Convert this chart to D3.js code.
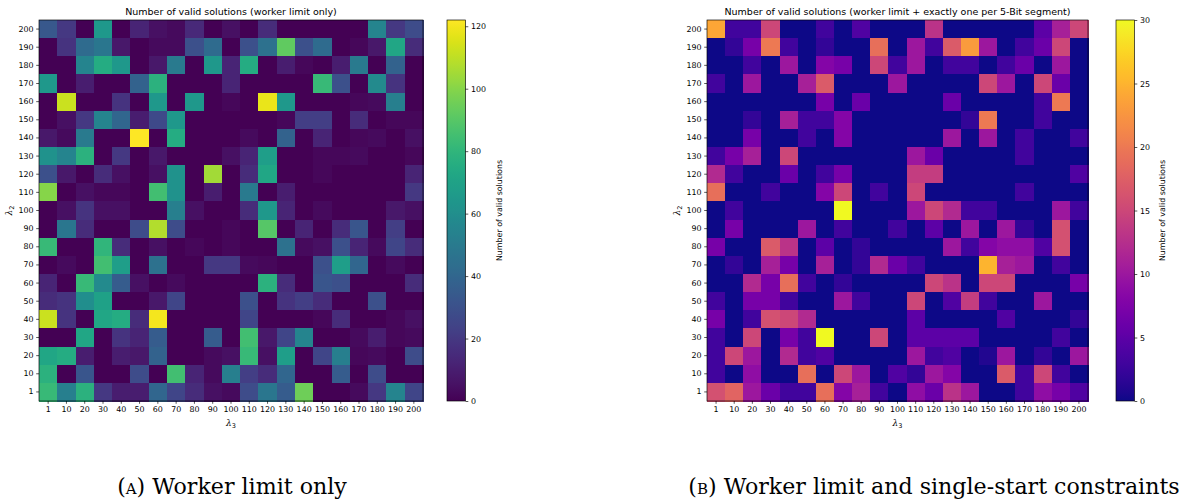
<!DOCTYPE html>
<html>
<head>
<meta charset="utf-8">
<script src="https://cdn.jsdelivr.net/npm/d3@7"></script>
<style>
    body { margin: 0; background: #fff; }
    svg text { fill: #000; }
</style>
</head>
<body>
<svg id="chart" width="1184" height="502"></svg>
<script>
// lambda values on both axes
const lambda3 = [1, 10, 20, 30, 40, 50, 60, 70, 80, 90, 100, 110, 120, 130, 140, 150, 160, 170, 180, 190, 200];
// rows are listed top to bottom, i.e. lambda2 = 200 first
const lambda2Rows = lambda3.slice().reverse();

// (a) worker limit only
const workerOnly = [
    [33, 20, 0, 65, 0, 12, 5, 3, 14, 0, 5, 0, 15, 0, 0, 0, 0, 0, 55, 20, 28],
    [0, 18, 42, 48, 8, 0, 3, 3, 30, 42, 0, 30, 45, 92, 30, 42, 0, 2, 8, 72, 15],
    [0, 0, 55, 75, 65, 0, 8, 50, 0, 65, 12, 75, 0, 10, 2, 0, 10, 50, 0, 38, 0],
    [65, 0, 10, 0, 0, 38, 78, 0, 0, 0, 12, 0, 0, 0, 0, 82, 30, 0, 58, 18, 0],
    [0, 112, 0, 0, 18, 0, 65, 0, 65, 0, 2, 0, 118, 65, 0, 0, 0, 2, 3, 52, 0],
    [0, 5, 20, 55, 40, 10, 27, 65, 0, 0, 0, 0, 0, 2, 22, 22, 0, 15, 0, 2, 2],
    [8, 3, 50, 0, 0, 122, 0, 75, 0, 0, 0, 3, 0, 38, 0, 12, 0, 2, 3, 0, 5],
    [62, 55, 78, 0, 20, 0, 8, 0, 0, 0, 5, 12, 68, 0, 0, 2, 2, 3, 0, 0, 2],
    [30, 8, 0, 15, 5, 0, 5, 62, 0, 105, 0, 15, 72, 0, 0, 2, 0, 0, 0, 0, 12],
    [100, 0, 5, 2, 2, 0, 85, 62, 0, 10, 0, 50, 0, 10, 0, 0, 0, 0, 0, 0, 20],
    [0, 5, 18, 5, 5, 0, 0, 52, 5, 0, 0, 15, 65, 12, 0, 3, 0, 0, 0, 8, 5],
    [0, 48, 15, 0, 0, 28, 108, 28, 0, 0, 2, 0, 90, 0, 12, 0, 15, 32, 0, 22, 0],
    [82, 0, 0, 80, 15, 0, 5, 0, 2, 0, 2, 0, 0, 45, 3, 5, 30, 12, 3, 25, 15],
    [0, 3, 0, 85, 68, 0, 45, 0, 0, 20, 20, 3, 2, 0, 0, 30, 68, 40, 0, 3, 0],
    [12, 0, 82, 58, 35, 5, 0, 3, 0, 0, 0, 0, 78, 15, 0, 32, 30, 0, 0, 0, 15],
    [15, 18, 60, 70, 0, 0, 8, 25, 0, 0, 0, 30, 0, 18, 22, 15, 0, 0, 30, 0, 0],
    [112, 18, 0, 72, 75, 15, 120, 0, 0, 0, 0, 25, 0, 0, 0, 2, 15, 0, 0, 2, 5],
    [0, 0, 72, 0, 18, 12, 35, 0, 0, 35, 0, 85, 8, 25, 55, 0, 0, 3, 10, 2, 3],
    [72, 75, 10, 0, 10, 8, 38, 0, 0, 3, 5, 82, 5, 68, 0, 25, 52, 2, 3, 0, 28],
    [78, 0, 32, 0, 0, 28, 0, 85, 12, 3, 52, 22, 15, 40, 0, 0, 35, 0, 28, 0, 0],
    [82, 52, 78, 20, 10, 10, 40, 25, 15, 5, 3, 28, 48, 35, 95, 0, 0, 3, 20, 55, 25]
];

// (b) worker limit + exactly one per 5-bit segment
const singleStart = [
    [24, 3, 3, 15, 0, 0, 3, 0, 4, 0, 0, 0, 13, 0, 0, 0, 0, 0, 5, 11, 15],
    [0, 2, 7, 20, 3, 0, 2, 0, 0, 19, 0, 10, 3, 17, 23, 10, 0, 3, 6, 15, 0],
    [0, 0, 3, 0, 10, 0, 8, 7, 0, 15, 3, 10, 0, 3, 3, 0, 3, 6, 0, 10, 0],
    [3, 0, 10, 0, 0, 11, 17, 0, 0, 0, 10, 0, 0, 0, 0, 15, 10, 0, 15, 6, 0],
    [0, 0, 0, 0, 0, 0, 7, 0, 6, 0, 0, 0, 0, 6, 0, 0, 0, 0, 3, 20, 0],
    [0, 0, 2, 0, 11, 3, 3, 8, 0, 0, 0, 0, 0, 0, 2, 20, 0, 0, 3, 0, 0],
    [0, 0, 7, 0, 0, 3, 0, 8, 0, 0, 0, 0, 0, 10, 0, 10, 0, 3, 0, 0, 3],
    [3, 7, 11, 0, 15, 0, 0, 0, 0, 0, 0, 10, 6, 0, 0, 0, 0, 3, 0, 0, 0],
    [12, 3, 0, 0, 6, 0, 3, 7, 0, 0, 0, 14, 14, 0, 0, 0, 0, 0, 0, 0, 4],
    [19, 0, 0, 3, 0, 0, 8, 15, 0, 3, 0, 15, 0, 0, 0, 0, 0, 3, 0, 0, 0],
    [0, 3, 0, 0, 0, 0, 0, 30, 0, 0, 0, 10, 15, 12, 3, 3, 0, 0, 0, 10, 3],
    [0, 7, 0, 0, 0, 10, 0, 3, 0, 0, 3, 0, 5, 0, 10, 0, 10, 2, 0, 16, 0],
    [7, 0, 0, 17, 13, 0, 5, 0, 2, 0, 0, 0, 0, 10, 3, 8, 9, 9, 4, 16, 0],
    [0, 2, 0, 11, 7, 0, 11, 0, 2, 12, 6, 3, 0, 0, 0, 25, 11, 10, 0, 3, 0],
    [0, 0, 12, 7, 19, 3, 0, 2, 0, 0, 0, 0, 15, 13, 0, 15, 15, 0, 0, 0, 7],
    [3, 0, 7, 7, 3, 0, 0, 10, 3, 0, 0, 15, 0, 4, 14, 3, 0, 0, 10, 0, 0],
    [7, 0, 3, 16, 15, 12, 0, 0, 0, 0, 0, 5, 0, 0, 0, 0, 4, 0, 0, 0, 2],
    [3, 0, 15, 0, 7, 3, 30, 0, 0, 15, 0, 5, 5, 5, 5, 0, 0, 0, 0, 3, 0],
    [3, 15, 10, 0, 12, 3, 4, 0, 0, 0, 0, 10, 3, 4, 0, 1, 10, 0, 2, 0, 10],
    [3, 0, 9, 0, 0, 19, 0, 15, 10, 0, 4, 2, 10, 8, 0, 0, 17, 3, 15, 3, 0],
    [16, 18, 10, 6, 3, 3, 19, 8, 11, 3, 0, 9, 6, 13, 10, 0, 0, 3, 9, 7, 4]
];

const ticksA = [0, 20, 40, 60, 80, 100, 120];
const ticksB = [0, 5, 10, 15, 20, 25, 30];

const svg = d3.select("#chart");
const FS = 7.9;
const SANS = "'DejaVu Sans', sans-serif";
const SERIF = "'DejaVu Serif', serif";

function drawPanel(cfg) {
    const w = cfg.w, h = cfg.h;
    const g = svg.append("g").attr("transform", `translate(${cfg.x},${cfg.y})`);

    const x = d3.scaleBand().domain(lambda3).range([0, w]);
    const y = d3.scaleBand().domain(lambda2Rows).range([0, h]);
    const color = d3.scaleSequential(cfg.scheme).domain([0, cfg.vmax]);

    const cells = [];
    cfg.values.forEach((row, i) => {
        row.forEach((v, j) => cells.push({r: lambda2Rows[i], c: lambda3[j], v: v}));
    });

    g.append("g")
        .attr("shape-rendering", "crispEdges")
        .selectAll("rect")
        .data(cells)
        .enter().append("rect")
        .attr("x", d => x(d.c))
        .attr("y", d => y(d.r))
        .attr("width", x.bandwidth() + 0.8)
        .attr("height", y.bandwidth() + 0.8)
        .attr("fill", d => color(d.v));

    // axes
    const xa = g.append("g")
        .attr("transform", `translate(0,${h})`)
        .call(d3.axisBottom(x).tickSize(2.8).tickPadding(2.6));
    const ya = g.append("g")
        .call(d3.axisLeft(y).tickSize(2.8).tickPadding(2.6));
    [xa, ya].forEach(a => {
        a.select(".domain").remove();
        a.selectAll("line").attr("stroke", "#000").attr("stroke-width", 0.65);
        a.selectAll("text").style("font-size", FS + "px").style("font-family", SANS);
    });

    g.append("rect")
        .attr("width", w).attr("height", h)
        .attr("fill", "none").attr("stroke", "#000").attr("stroke-width", 0.65);

    g.append("text")
        .attr("x", w / 2).attr("y", -5)
        .attr("text-anchor", "middle")
        .style("font-family", SANS)
        .style("font-size", "9.5px")
        .text(cfg.title);

    // lambda labels
    const xl = g.append("text")
        .attr("x", w / 2).attr("y", h + 25)
        .attr("text-anchor", "middle")
        .style("font-family", SANS)
        .style("font-size", "9px");
    xl.append("tspan").style("font-family", SERIF).style("font-style", "italic").text("λ");
    xl.append("tspan").style("font-size", "6.5px").attr("dy", 2).text("3");

    const yl = g.append("text")
        .attr("transform", `translate(${-27},${h / 2}) rotate(-90)`)
        .attr("text-anchor", "middle")
        .style("font-family", SANS)
        .style("font-size", "9px");
    yl.append("tspan").style("font-family", SERIF).style("font-style", "italic").text("λ");
    yl.append("tspan").style("font-size", "6.5px").attr("dy", 2).text("2");

    // colorbar
    const cb = svg.append("g").attr("transform", `translate(${cfg.cbX},${cfg.y})`);
    const gradId = "grad" + cfg.id;
    const grad = svg.append("defs").append("linearGradient")
        .attr("id", gradId)
        .attr("x1", 0).attr("y1", 1).attr("x2", 0).attr("y2", 0);
    d3.range(0, 1.0001, 0.02).forEach(t => {
        grad.append("stop").attr("offset", t).attr("stop-color", cfg.scheme(t));
    });
    cb.append("rect")
        .attr("width", cfg.cbW).attr("height", h)
        .attr("fill", `url(#${gradId})`)
        .attr("stroke", "#000").attr("stroke-width", 0.65);

    const cs = d3.scaleLinear().domain([0, cfg.vmax]).range([h, 0]);
    const ca = cb.append("g")
        .attr("transform", `translate(${cfg.cbW},0)`)
        .call(d3.axisRight(cs).tickValues(cfg.ticks).tickSize(2.8).tickPadding(2.6));
    ca.select(".domain").remove();
    ca.selectAll("line").attr("stroke", "#000").attr("stroke-width", 0.65);
    ca.selectAll("text").style("font-size", FS + "px").style("font-family", SANS);

    cb.append("text")
        .attr("transform", `translate(${cfg.cbLabelX},${h / 2}) rotate(-90)`)
        .attr("text-anchor", "middle")
        .style("font-family", SANS)
        .style("font-size", FS + "px")
        .text("Number of valid solutions");

    // caption under the panel
    const cap = svg.append("text")
        .attr("class", "caption")
        .attr("x", cfg.capX).attr("y", 494)
        .attr("text-anchor", "middle")
        .style("font-family", SERIF)
        .style("font-size", "20px");
    cap.append("tspan").style("font-variant", "small-caps").text(cfg.capTag);
    cap.append("tspan").text(" " + cfg.caption);
    return cap;
}

const capA = drawPanel({
    id: "a", x: 39, y: 20, w: 384, h: 381,
    values: workerOnly, scheme: d3.interpolateViridis, vmax: 122, ticks: ticksA,
    cbX: 447, cbW: 18.5, cbLabelX: 55,
    title: "Number of valid solutions (worker limit only)",
    capX: 232, capTag: "(a)", caption: "Worker limit only"
});

const capB = drawPanel({
    id: "b", x: 707, y: 20, w: 381, h: 381,
    values: singleStart, scheme: d3.interpolatePlasma, vmax: 30, ticks: ticksB,
    cbX: 1116, cbW: 18.5, cbLabelX: 49,
    title: "Number of valid solutions (worker limit + exactly one per 5-Bit segment)",
    capX: 934, capTag: "(b)", caption: "Worker limit and single-start constraints"
});

// both captions share one size, fitted to the width of the longer one
const capSize = 20 * 492 / capB.node().getComputedTextLength();
capA.style("font-size", capSize + "px");
capB.style("font-size", capSize + "px");
</script>
</body>
</html>
